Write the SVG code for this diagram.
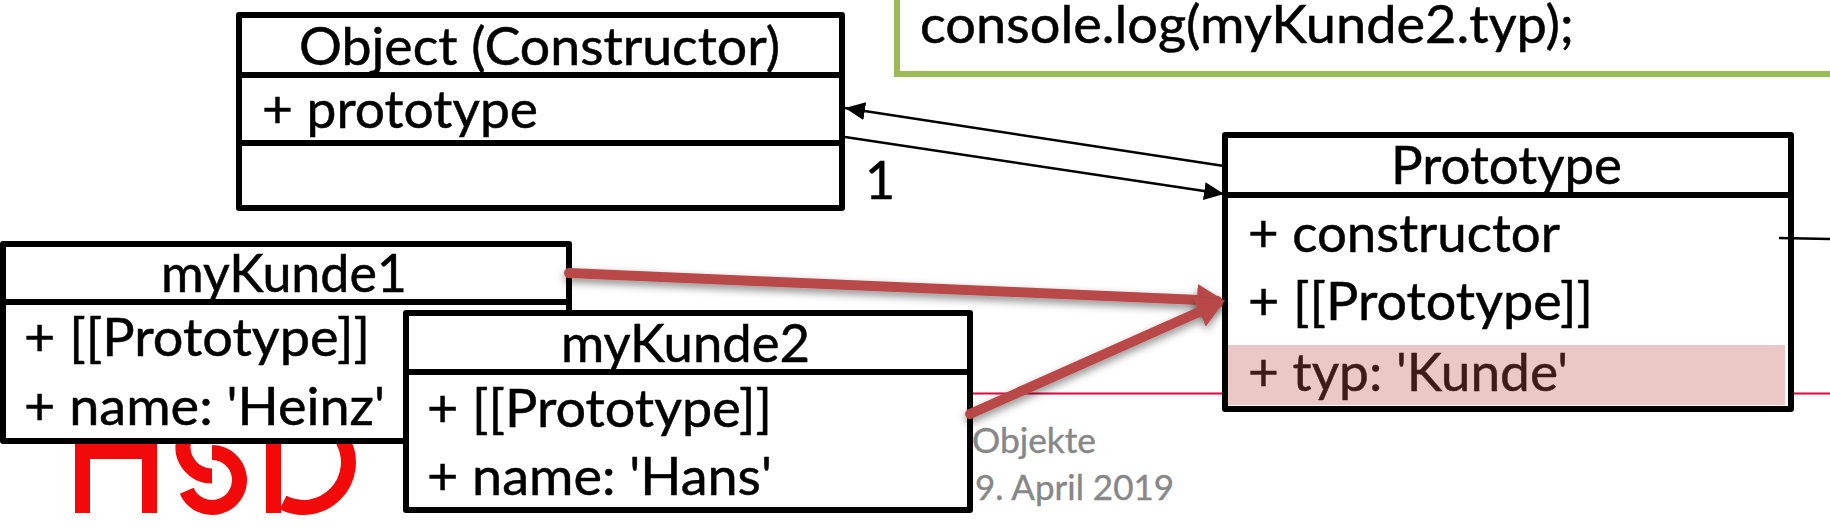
<svg xmlns="http://www.w3.org/2000/svg" width="1830" height="532" viewBox="0 0 1830 532">
  <style>
    text { font-family: Lato, "Liberation Sans", sans-serif; font-size: 52px; fill: #000; stroke: #000; stroke-width: 0.5px; }
    .box { fill: #fff; stroke: #000; stroke-width: 6; stroke-linejoin: round; }
    .div { stroke: #000; stroke-width: 6; }
    text.small { font-size: 34px; fill: #878787; stroke: #878787; stroke-width: 0.4px; }
    .thin { fill: none; stroke: #000; stroke-width: 2.5; }
    .red { fill: none; stroke: #B94A48; stroke-width: 10; stroke-linecap: round; filter: url(#shadow); }
    .logo { fill: none; stroke: #F20A0A; stroke-width: 15; }
  </style>
  <defs>
    <marker id="headBlack" markerUnits="userSpaceOnUse" markerWidth="22" markerHeight="18" refX="20" refY="9" orient="auto">
      <path d="M0 0L20 9L0 18Z" fill="#000"/>
    </marker>
    <marker id="headRed" markerUnits="userSpaceOnUse" markerWidth="30" markerHeight="32" refX="20" refY="16" orient="auto">
      <path d="M0 0L28 16L0 32Z" fill="#B94A48"/>
    </marker>
    <filter id="shadow" x="-10%" y="-60%" width="120%" height="220%">
      <feDropShadow dx="0" dy="4" stdDeviation="4" flood-color="#000" flood-opacity="0.45"/>
    </filter>
  </defs>

  <g id="slide-background">
    <rect x="897" y="-10" width="943" height="84" fill="#fff" stroke="#9BBB59" stroke-width="6"/>
    <text x="920" y="43" textLength="654" lengthAdjust="spacingAndGlyphs">console.log(myKunde2.typ);</text>
    <line x1="970" y1="393.500" x2="1830" y2="393.500" stroke="#E6003C" stroke-width="2"/>
    <g id="hsd-logo">
      <path class="logo" d="M82.500 435V513M149.500 435V513M82.500 451.500H149.500"/>
      <path class="logo" d="M183.600 441A29 29 0 0 0 212 476"/>
      <path class="logo" d="M212 452.500A27.500 27.500 0 1 1 186.700 490.800"/>
      <path class="logo" d="M273.500 435V513M343 441A45 45 0 0 1 283 502.500"/>
    </g>
    <text class="small" x="972" y="453" textLength="124" lengthAdjust="spacingAndGlyphs">Objekte</text>
    <text class="small" x="975" y="500" textLength="199" lengthAdjust="spacingAndGlyphs">9. April 2019</text>
  </g>

  <g id="node-object">
    <rect class="box" x="239" y="15" width="603" height="193"/>
    <line class="div" x1="239" y1="75" x2="842" y2="75"/>
    <line class="div" x1="239" y1="143" x2="842" y2="143"/>
    <text x="299" y="65" textLength="481" lengthAdjust="spacingAndGlyphs">Object (Constructor)</text>
    <text x="262" y="128" textLength="276" lengthAdjust="spacingAndGlyphs">+ prototype</text>
  </g>

  <g id="node-prototype">
    <rect class="box" x="1225" y="135" width="566" height="274"/>
    <line class="div" x1="1225" y1="195" x2="1791" y2="195"/>
    <text x="1391" y="184" textLength="231" lengthAdjust="spacingAndGlyphs">Prototype</text>
    <text x="1248" y="252" textLength="312" lengthAdjust="spacingAndGlyphs">+ constructor</text>
    <text x="1248" y="320" textLength="345" lengthAdjust="spacingAndGlyphs">+ [[Prototype]]</text>
    <text x="1248" y="391" textLength="320" lengthAdjust="spacingAndGlyphs">+ typ: 'Kunde'</text>
    <rect x="1228" y="345" width="557" height="60" fill="#C0504D" opacity="0.32"/>
  </g>

  <g id="node-mykunde1">
    <rect class="box" x="3" y="244" width="566" height="197"/>
    <line class="div" x1="3" y1="302" x2="569" y2="302"/>
    <text x="161" y="292" textLength="246" lengthAdjust="spacingAndGlyphs">myKunde1</text>
    <text x="24" y="356" textLength="346" lengthAdjust="spacingAndGlyphs">+ [[Prototype]]</text>
    <text x="24" y="425" textLength="361" lengthAdjust="spacingAndGlyphs">+ name: 'Heinz'</text>
  </g>

  <g id="node-mykunde2">
    <rect class="box" x="406" y="313" width="564" height="197"/>
    <line class="div" x1="406" y1="372" x2="970" y2="372"/>
    <text x="561" y="362" textLength="249" lengthAdjust="spacingAndGlyphs">myKunde2</text>
    <text x="427" y="427" textLength="345" lengthAdjust="spacingAndGlyphs">+ [[Prototype]]</text>
    <text x="427" y="495" textLength="345" lengthAdjust="spacingAndGlyphs">+ name: 'Hans'</text>
  </g>

  <g id="connectors">
    <line class="thin" x1="1224" y1="166" x2="845" y2="108" marker-end="url(#headBlack)"/>
    <line class="thin" x1="845" y1="137" x2="1224" y2="194" marker-end="url(#headBlack)"/>
    <line class="thin" x1="1779" y1="238" x2="1830" y2="239"/>
    <line class="red" x1="569" y1="273" x2="1217" y2="300.700" marker-end="url(#headRed)"/>
    <line class="red" x1="970" y1="414" x2="1217.600" y2="303.800" marker-end="url(#headRed)"/>
  </g>

  <text id="multiplicity" x="865" y="199">1</text>
</svg>
